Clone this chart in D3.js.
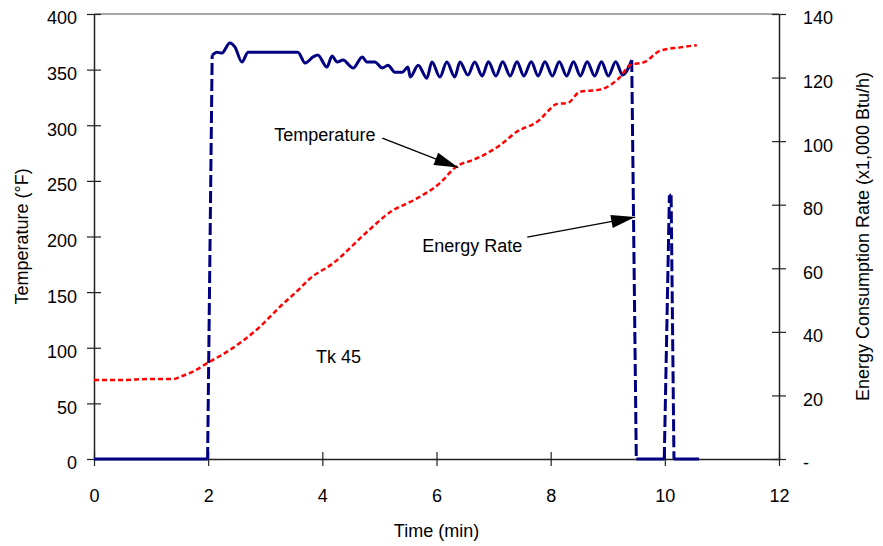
<!DOCTYPE html>
<html>
<head>
<meta charset="utf-8">
<title>Tk 45 temperature and energy rate</title>
<style>
body { margin: 0; background: #fff; }
text { font-family: "Liberation Sans", Arial, sans-serif; font-size: 18px; fill: #000; }
</style>
</head>
<body>
<script src="https://d3js.org/d3.v7.min.js"></script>
<script>
// temperature (left axis, °F)
var tempTime = [0, 0.5, 1.0, 1.4, 1.51, 1.75, 1.98, 2.38, 2.91, 3.26, 3.56, 3.78, 4.19, 4.78,
  5.19, 5.65, 6.06, 6.35, 6.65, 7.11, 7.40, 7.81, 7.96, 8.10, 8.3, 8.51, 8.86, 9.21, 9.39,
  9.65, 9.92, 10.27, 10.56];
var tempVals = [71, 71, 72, 72, 74, 79, 86, 98, 119, 137, 151, 162, 176, 204,
  222, 234, 248, 263, 269, 282, 294, 305, 313, 319, 320, 330, 332, 343, 354,
  357, 367, 370, 372];

// energy consumption rate (right axis, x1,000 Btu/h)
var energyTime = [0, 1.99, 2.07, 2.15, 2.24, 2.38, 2.47, 2.59, 2.70, 3.57, 3.70, 3.84, 3.92, 4.08, 4.17,
  4.26, 4.36, 4.54, 4.70, 4.78, 4.92, 5.05, 5.15, 5.27, 5.40, 5.50, 5.54, 5.68, 5.83, 5.92,
  6.06, 6.18, 6.32, 6.41, 6.55, 6.67, 6.80, 6.91, 7.04, 7.16, 7.29, 7.41, 7.53, 7.66, 7.78,
  7.90, 8.03, 8.15, 8.28, 8.40, 8.52, 8.64, 8.77, 8.89, 9.01, 9.14, 9.26, 9.42, 9.50, 9.99,
  10.08, 10.11, 10.16, 10.6];
var energyVals = [0, 0, 127, 128, 127.7, 130.9, 129.6, 124.9, 128, 128, 124.6, 126.5, 127.1, 123.3, 126.8,
  124.9, 125.5, 123, 126.5, 124.9, 124.9, 123, 123.9, 121.7, 121.7, 123.3, 120.2, 123.9, 119.8, 124.9,
  120.2, 124.9, 120.2, 124.9, 120.8, 124.9, 120.5, 125, 120.5, 125, 120.5, 125, 120.5, 125, 120.5,
  125, 120.5, 125, 120.5, 125, 120.5, 125, 120.5, 125, 120.5, 125, 120.8, 125.5, 0, 0,
  83, 83, 0, 0];

var xTicks = [0, 2, 4, 6, 8, 10, 12];
var leftTicks = [0, 50, 100, 150, 200, 250, 300, 350, 400];
var rightTicks = [0, 20, 40, 60, 80, 100, 120, 140];
var rightTickLabels = ["-", "20", "40", "60", "80", "100", "120", "140"];

var width = 883, height = 546;
var margin = {left: 94, right: 104, top: 14, bottom: 87};

var svg = d3.select("body").append("svg")
  .attr("width", width)
  .attr("height", height);

var x = d3.scaleLinear().domain([0, 12]).range([margin.left, width - margin.right]);
var yL = d3.scaleLinear().domain([0, 400]).range([height - margin.bottom, margin.top]);
var yR = d3.scaleLinear().domain([0, 140]).range([height - margin.bottom, margin.top]);

// top border of plot area
svg.append("line")
  .attr("x1", x(0)).attr("x2", x(12))
  .attr("y1", yL(400)).attr("y2", yL(400))
  .attr("stroke", "#8a8a8a").attr("stroke-width", 1.5);

var axL = svg.append("g")
  .attr("transform", "translate(" + x(0) + ",0)")
  .call(d3.axisLeft(yL).tickValues(leftTicks).tickSize(7).tickSizeOuter(0).tickPadding(10));
axL.selectAll(".tick line").attr("x1", 7);
axL.selectAll(".tick text").attr("dy", "0.55em");

var axR = svg.append("g")
  .attr("transform", "translate(" + x(12) + ",0)")
  .call(d3.axisRight(yR).tickValues(rightTicks).tickSize(7).tickSizeOuter(0).tickPadding(17)
    .tickFormat(function(d, i) { return rightTickLabels[i]; }));
axR.selectAll(".tick line").attr("x1", -7);
axR.selectAll(".tick text").attr("dy", "0.55em");

var axB = svg.append("g")
  .attr("transform", "translate(0," + yL(0) + ")")
  .call(d3.axisBottom(x).tickValues(xTicks).tickSize(7).tickSizeOuter(0).tickPadding(23));
axB.selectAll(".tick line").attr("y1", -7);

svg.selectAll(".domain").attr("stroke", "#222").attr("stroke-width", 1.5);
svg.selectAll(".tick line").attr("stroke", "#222").attr("stroke-width", 1.2);
svg.selectAll(".tick text").style("font-family", '"Liberation Sans", Arial, sans-serif')
  .style("font-size", "18px").attr("fill", "#000");

// energy rate: steep jumps dashed, the runs between them drawn solid and smooth
var ePts = energyTime.map(function(t, i) { return [x(t), yR(energyVals[i])]; });
var eG = svg.append("g")
  .attr("fill", "none")
  .attr("stroke", "#000080")
  .attr("stroke-width", 3)
  .attr("stroke-linejoin", "round");
var run = [ePts[0]];
function flushRun() {
  if (run.length > 1) {
    eG.append("path").attr("d", d3.line().curve(d3.curveMonotoneX)(run));
  }
}
for (var i = 1; i < ePts.length; i++) {
  var a = ePts[i - 1], b = ePts[i];
  if (Math.abs(b[1] - a[1]) > 40) {
    flushRun();
    eG.append("path").attr("d", d3.line()([a, b])).attr("stroke-dasharray", "12,4");
    run = [b];
  } else {
    run.push(b);
  }
}
flushRun();

// temperature dotted red
svg.append("path")
  .datum(tempTime.map(function(t, i) { return [t, tempVals[i]]; }))
  .attr("d", d3.line().curve(d3.curveMonotoneX)
    .x(function(d) { return x(d[0]); }).y(function(d) { return yL(d[1]); }))
  .attr("fill", "none")
  .attr("stroke", "#ff0000")
  .attr("stroke-width", 2.5)
  .attr("stroke-dasharray", "5,3");

// arrowheads
svg.append("defs").append("marker")
  .attr("id", "head")
  .attr("markerUnits", "userSpaceOnUse")
  .attr("viewBox", "-25 -7 26 14")
  .attr("refX", 0).attr("refY", 0)
  .attr("markerWidth", 26).attr("markerHeight", 14)
  .attr("orient", "auto")
  .append("path").attr("d", "M0,0 L-24,-6.5 L-24,6.5 Z").attr("fill", "#000");

svg.append("line")
  .attr("x1", x(5.05)).attr("y1", yL(288.5))
  .attr("x2", x(6.38)).attr("y2", yL(262))
  .attr("stroke", "#000").attr("stroke-width", 1.3)
  .attr("marker-end", "url(#head)");
svg.append("text").attr("x", x(4.93)).attr("y", yL(288.5) + 3)
  .attr("text-anchor", "end").text("Temperature");

svg.append("line")
  .attr("x1", x(7.59)).attr("y1", yR(69.8))
  .attr("x2", x(9.48)).attr("y2", yR(76.1))
  .attr("stroke", "#000").attr("stroke-width", 1.3)
  .attr("marker-end", "url(#head)");
svg.append("text").attr("x", x(5.75)).attr("y", yR(65.1))
  .text("Energy Rate");

svg.append("text").attr("x", x(3.89)).attr("y", yL(86.5)).text("Tk 45");

// axis titles
svg.append("text")
  .attr("transform", "translate(28," + (yL(200)) + ") rotate(-90)")
  .attr("text-anchor", "middle").text("Temperature (°F)");
svg.append("text")
  .attr("transform", "translate(869," + (yL(200)) + ") rotate(-90)")
  .attr("text-anchor", "middle").text("Energy Consumption Rate (x1,000 Btu/h)");
svg.append("text")
  .attr("x", x(6)).attr("y", 537)
  .attr("text-anchor", "middle").text("Time (min)");
</script>
</body>
</html>
